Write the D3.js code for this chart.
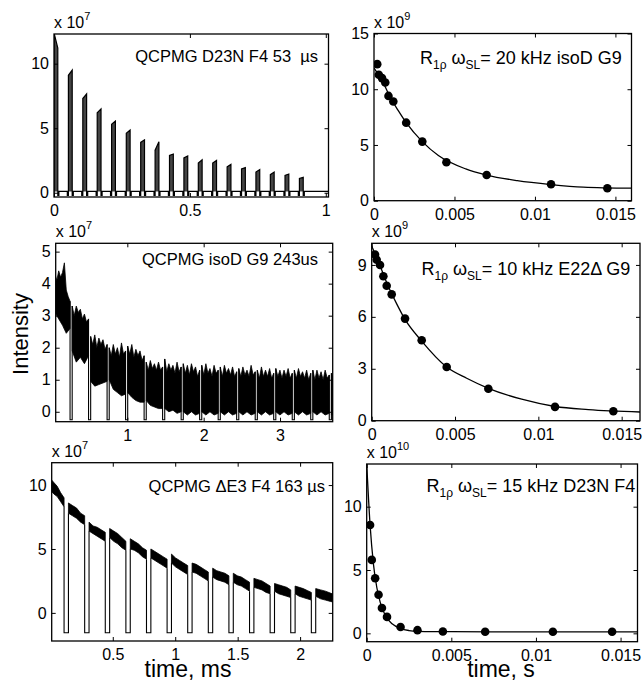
<!DOCTYPE html>
<html>
<head>
<meta charset="UTF-8">
<title>QCPMG echo trains and R1rho decays</title>
<script src="https://cdn.jsdelivr.net/npm/d3@7/dist/d3.min.js"></script>
<style>
  body { margin: 0; background: #fff; }
  svg text { font-family: "Liberation Sans", Arial, Helvetica, sans-serif; fill: #000; }
  .tick line { stroke: #000; stroke-width: 1; }
</style>
</head>
<body>
<div id="chart"></div>
<script>
// ---------- left column: QCPMG echo trains (time in ms, intensity x 1e7) ----------

// D23N F4, 53 us spacing: narrow echoes
const d23nStart = [0.0, 0.053, 0.106, 0.159, 0.212, 0.266, 0.319, 0.372, 0.425, 0.478, 0.531, 0.584, 0.637, 0.690, 0.743, 0.796, 0.850, 0.903];
const d23nTopL  = [12.4, 9.1, 7.3, 6.2, 5.3, 4.6, 3.9, 3.3, 2.9, 2.7, 2.3, 2.3, 2.0, 1.85, 1.6, 1.4, 1.35, 1.1];
const d23nTopR  = [11.2, 9.5, 7.65, 6.5, 5.55, 4.85, 4.1, 3.95, 3.0, 2.85, 2.55, 2.5, 2.2, 1.95, 1.8, 1.6, 1.45, 1.2];
const d23nBase = 0.1, d23nDip = -0.2;

// isoD G9, 243 us spacing: noisy blocks separated by short gaps
const isoGap = [0.25, 0.492, 0.735, 0.977, 1.22, 1.462, 1.705, 1.947, 2.19, 2.432, 2.675, 2.917, 3.16, 3.402, 3.645];
const isoTop = [
  [4.3, 4.1, 4.4, 4.2, 4.35, 4.65, 3.8, 3.6, 3.45],
  [3.3, 3.0, 3.3, 3.1, 3.2, 2.9, 3.05, 2.8, 2.9],
  [2.35, 2.1, 2.4, 2.0, 2.3, 2.1, 2.25, 1.95, 2.1],
  [2.0, 1.75, 2.1, 1.8, 2.0, 1.7, 2.15, 1.8, 1.9],
  [2.05, 1.8, 2.1, 1.7, 1.95, 1.75, 1.9, 1.6, 1.75],
  [1.55, 1.3, 1.6, 1.35, 1.5, 1.3, 1.55, 1.3, 1.4],
  [1.65, 1.25, 1.5, 1.3, 1.45, 1.2, 1.55, 1.25, 1.4],
  [1.5, 1.2, 1.45, 1.15, 1.5, 1.25, 1.4, 1.1, 1.3],
  [1.45, 1.15, 1.5, 1.2, 1.35, 1.1, 1.45, 1.2, 1.3],
  [1.4, 1.1, 1.45, 1.2, 1.35, 1.15, 1.4, 1.1, 1.25],
  [1.35, 1.1, 1.4, 1.15, 1.3, 1.1, 1.45, 1.15, 1.25],
  [1.3, 1.05, 1.4, 1.1, 1.3, 1.1, 1.35, 1.05, 1.2],
  [1.35, 1.1, 1.3, 1.05, 1.3, 1.1, 1.35, 1.05, 1.2],
  [1.3, 1.05, 1.35, 1.1, 1.25, 1.05, 1.3, 1.0, 1.2],
  [1.3, 1.0, 1.3, 1.05, 1.25, 1.0, 1.3, 1.05, 1.15],
  [1.2, 1.1, 1.15]
];
const isoBot = [
  [3.1, 2.9, 2.7, 2.45, 2.6],
  [1.9, 1.55, 1.7, 1.5, 1.75],
  [0.95, 0.8, 0.85, 0.9, 0.95],
  [1.0, 0.7, 0.6, 0.5, 0.55],
  [0.6, 0.45, 0.35, 0.3, 0.3],
  [0.35, 0.2, 0.15, 0.1, 0.1],
  [0.1, 0.0, 0.05, -0.05, 0.0],
  [0.0, -0.1, 0.0, -0.1, -0.05],
  [0.0, -0.1, 0.0, -0.1, -0.05],
  [0.0, -0.1, 0.0, -0.1, -0.05],
  [0.0, -0.1, 0.0, -0.1, -0.05],
  [0.0, -0.1, 0.0, -0.1, -0.05],
  [0.0, -0.1, 0.0, -0.1, -0.05],
  [0.0, -0.1, 0.0, -0.1, -0.05],
  [0.0, -0.1, 0.0, -0.1, -0.05],
  [-0.1, -0.1, -0.1]
];
const isoGapWidth = 0.028, isoGapLevel = -0.25;

// dE3 F4, 163 us spacing: cleaner blocks dropping well below zero between echoes
const de3Gap = [0.11, 0.275, 0.44, 0.605, 0.77, 0.935, 1.1, 1.265, 1.43, 1.595, 1.76, 1.925, 2.09];
const de3Top = [
  [10.5, 10.2, 9.9, 9.4, 9.0], [8.6, 8.4, 8.2, 7.8, 7.6], [7.1, 6.8, 6.7, 6.5, 6.3],
  [6.6, 6.4, 6.2, 5.9, 5.6], [5.8, 5.6, 5.4, 5.1, 4.9], [5.0, 4.8, 4.6, 4.4, 4.2],
  [4.6, 4.3, 4.1, 3.9, 3.7], [3.9, 3.8, 3.6, 3.4, 3.2], [3.5, 3.3, 3.2, 3.1, 2.9],
  [3.1, 2.9, 2.8, 2.6, 2.4], [2.7, 2.6, 2.5, 2.3, 2.1], [2.3, 2.2, 2.1, 2.0, 1.8],
  [2.1, 2.0, 1.9, 1.75, 1.6], [1.9, 1.8, 1.7, 1.55, 1.4]
];
const de3Bot = [
  [9.6, 9.3, 9.1, 8.7, 8.3], [7.8, 7.6, 7.4, 7.1, 6.9], [6.4, 6.2, 6.0, 5.8, 5.6],
  [5.9, 5.6, 5.4, 5.1, 4.9], [5.0, 4.9, 4.7, 4.4, 4.2], [4.3, 4.1, 3.9, 3.7, 3.5],
  [3.9, 3.6, 3.4, 3.2, 3.0], [3.2, 3.1, 2.9, 2.7, 2.5], [2.8, 2.6, 2.5, 2.4, 2.2],
  [2.4, 2.2, 2.1, 1.9, 1.7], [2.0, 1.9, 1.8, 1.6, 1.5], [1.7, 1.5, 1.4, 1.3, 1.2],
  [1.5, 1.3, 1.2, 1.1, 1.0], [1.3, 1.1, 1.0, 0.9, 0.8]
];
const de3GapWidth = 0.035, de3GapLevel = -1.55;

// ---------- right column: R1rho decays (time in s) ----------
const slTime = [0.0002, 0.0003, 0.0005, 0.0007, 0.0009, 0.0012, 0.002, 0.003, 0.0045, 0.007, 0.011, 0.0145];
const r20Int = [12.25, 11.3, 11.0, 10.6, 9.4, 8.9, 7.0, 5.3, 3.45, 2.3, 1.47, 1.12];   // x 1e9
const r10Int = [9.6, 9.3, 9.0, 8.35, 7.8, 7.3, 5.9, 4.65, 3.1, 1.85, 0.8, 0.55];       // x 1e9
const r15Int = [8.55, 5.8, 4.35, 3.05, 2.0, 1.3, 0.5, 0.25, 0.15, 0.12, 0.12, 0.12];  // x 1e10

const r20FitT = [0, 0.0005, 0.001, 0.0015, 0.002, 0.003, 0.004, 0.0057, 0.007, 0.0089, 0.011, 0.013, 0.016];
const r20FitV = [11.9, 10.8, 9.3, 8.1, 7.0, 5.3, 4.05, 2.85, 2.3, 1.8, 1.45, 1.22, 1.12];
const r10FitT = [0, 0.0005, 0.001, 0.0015, 0.002, 0.003, 0.0045, 0.0057, 0.007, 0.009, 0.011, 0.013, 0.0162];
const r10FitV = [10.1, 8.95, 7.75, 6.75, 5.85, 4.6, 3.1, 2.45, 1.87, 1.24, 0.82, 0.64, 0.5];
const r15FitT = [0, 0.0002, 0.0004, 0.0006, 0.0008, 0.001, 0.0012, 0.0015, 0.002, 0.0025, 0.003, 0.005, 0.01, 0.016];
const r15FitV = [13.4, 8.55, 5.45, 3.6, 2.45, 1.7, 1.2, 0.75, 0.38, 0.22, 0.16, 0.13, 0.12, 0.12];

// ---------- layout ----------
const width = 643, height = 684;
const svg = d3.select("#chart").append("svg")
    .attr("width", width)
    .attr("height", height);

const panels = [
  {id: "a", l: 54, r: 328.5, t: 34, b: 197, xd: [0, 1.01], yd: [-0.33, 12.3], xt: [0, 0.5, 1], yt: [0, 5, 10], exp: "7"},
  {id: "b", l: 374, r: 631.5, t: 33.5, b: 200.7, xd: [0, 0.016], yd: [0, 15], xt: [0, 0.005, 0.01, 0.015], yt: [0, 5, 10, 15], exp: "9"},
  {id: "c", l: 55.7, r: 332.7, t: 243.3, b: 421.7, xd: [0.062, 3.69], yd: [-0.31, 5.26], xt: [1, 2, 3], yt: [0, 1, 2, 3, 4, 5], exp: "7"},
  {id: "d", l: 371.7, r: 640, t: 243.3, b: 420.7, xd: [0, 0.0161], yd: [0, 10.25], xt: [0, 0.005, 0.01, 0.015], yt: [0, 3, 6, 9], exp: "9"},
  {id: "e", l: 51.7, r: 332.7, t: 462.7, b: 641, xd: [0.011, 2.261], yd: [-2.2, 11.75], xt: [0.5, 1, 1.5, 2], yt: [0, 5, 10], exp: "7"},
  {id: "f", l: 366.7, r: 637.5, t: 464, b: 641.7, xd: [0, 0.016], yd: [-0.66, 13.37], xt: [0, 0.005, 0.01, 0.015], yt: [0, 5, 10], exp: "10"}
];

function setup(p) {
  const x = d3.scaleLinear().domain(p.xd).range([p.l, p.r]);
  const y = d3.scaleLinear().domain(p.yd).range([p.b, p.t]);
  svg.append("clipPath").attr("id", "clip-" + p.id)
    .append("rect")
    .attr("x", p.l).attr("y", p.t)
    .attr("width", p.r - p.l).attr("height", p.b - p.t);
  const plot = svg.append("g").attr("clip-path", "url(#clip-" + p.id + ")");
  return {x, y, plot};
}

function axes(p, x, y) {
  const tk = 4;
  const fmt = d => String(d);
  const bottom = svg.append("g").attr("transform", "translate(0," + p.b + ")")
    .call(d3.axisBottom(x).tickValues(p.xt).tickSizeInner(-tk).tickSizeOuter(0).tickPadding(8).tickFormat(fmt));
  const top = svg.append("g").attr("transform", "translate(0," + p.t + ")")
    .call(d3.axisTop(x).tickValues(p.xt).tickSizeInner(-tk).tickSizeOuter(0).tickFormat(""));
  const left = svg.append("g").attr("transform", "translate(" + p.l + ",0)")
    .call(d3.axisLeft(y).tickValues(p.yt).tickSizeInner(-tk).tickSizeOuter(0).tickPadding(5).tickFormat(fmt));
  const right = svg.append("g").attr("transform", "translate(" + p.r + ",0)")
    .call(d3.axisRight(y).tickValues(p.yt).tickSizeInner(-tk).tickSizeOuter(0).tickFormat(""));
  [bottom, top, left, right].forEach(g => {
    g.select(".domain").remove();
    g.attr("font-family", null).attr("font-size", 16);
  });

  svg.append("rect")
    .attr("x", p.l).attr("y", p.t)
    .attr("width", p.r - p.l).attr("height", p.b - p.t)
    .attr("fill", "none").attr("stroke", "#000").attr("stroke-width", 1.3);

  const ex = svg.append("text")
    .attr("x", p.l).attr("y", p.t - 6)
    .attr("font-size", 16);
  ex.append("tspan").text("x 10");
  ex.append("tspan").attr("dy", -8).attr("font-size", 11).text(p.exp);
}

const line = (x, y) => d3.line().x(d => x(d[0])).y(d => y(d[1]));

// spread n envelope values evenly across [t0, t1]
function spread(vals, t0, t1) {
  const n = vals.length;
  return vals.map((v, i) => [t0 + (t1 - t0) * i / (n - 1), v]);
}

// ---- panel a: D23N F4 ----
{
  const p = panels[0];
  const {x, y, plot} = setup(p);
  const w = 0.014, dw = 0.004;
  const pts = [[p.xd[0] - 0.01, d23nBase]];
  d23nStart.forEach((s, i) => {
    const pre = i === 0 ? s : s - dw;
    pts.push([pre, d23nBase], [pre, d23nDip], [s, d23nDip], [s, d23nTopL[i]],
             [s + w, d23nTopR[i]], [s + w, d23nDip], [s + w + dw, d23nDip], [s + w + dw, d23nBase]);
    plot.append("path")
      .attr("d", line(x, y)([[s, d23nBase], [s, d23nTopL[i]], [s + w, d23nTopR[i]], [s + w, d23nBase]]))
      .attr("fill", "#444").attr("stroke", "none");
  });
  pts.push([p.xd[1] + 0.01, d23nBase]);
  plot.append("path").attr("d", line(x, y)(pts))
    .attr("fill", "none").attr("stroke", "#000").attr("stroke-width", 1.2);
  axes(p, x, y);
  svg.append("text").attr("x", 318).attr("y", 62).attr("text-anchor", "end").attr("font-size", 16.5)
    .text("QCPMG D23N F4 53 \u00a0\u00b5s");
}

// ---- panel c: isoD G9 ----
{
  const p = panels[2];
  const {x, y, plot} = setup(p);
  const blocks = isoTop.map((top, i) => {
    const t0 = i === 0 ? p.xd[0] - 0.01 : isoGap[i - 1] + isoGapWidth;
    const t1 = i < isoGap.length ? isoGap[i] : p.xd[1] + 0.02;
    return {t0, t1, top: spread(top, t0, t1), bot: spread(isoBot[i], t0, t1)};
  });
  blocks.forEach(b => {
    plot.append("path")
      .attr("d", line(x, y)(b.top.concat(b.bot.slice().reverse())) + "Z")
      .attr("fill", "#000").attr("stroke", "#000").attr("stroke-width", 0.8);
  });
  isoGap.forEach((g, i) => {
    const a = blocks[i], b = blocks[i + 1];
    const pts = [[g, a.top[a.top.length - 1][1]], [g, isoGapLevel], [g + isoGapWidth, isoGapLevel]];
    if (b) pts.push([g + isoGapWidth, b.top[0][1]]);
    plot.append("path").attr("d", line(x, y)(pts))
      .attr("fill", "none").attr("stroke", "#000").attr("stroke-width", 1.1);
  });
  axes(p, x, y);
  svg.append("text").attr("x", 318).attr("y", 265).attr("text-anchor", "end").attr("font-size", 16.5)
    .text("QCPMG isoD G9 243us");
}

// ---- panel e: dE3 F4 ----
{
  const p = panels[4];
  const {x, y, plot} = setup(p);
  const blocks = de3Top.map((top, i) => {
    const t0 = i === 0 ? p.xd[0] - 0.01 : de3Gap[i - 1] + de3GapWidth;
    const t1 = i < de3Gap.length ? de3Gap[i] : p.xd[1] + 0.02;
    return {t0, t1, top: spread(top, t0, t1), bot: spread(de3Bot[i], t0, t1)};
  });
  blocks.forEach(b => {
    plot.append("path")
      .attr("d", line(x, y)(b.top.concat(b.bot.slice().reverse())) + "Z")
      .attr("fill", "#000").attr("stroke", "#000").attr("stroke-width", 0.8);
  });
  de3Gap.forEach((g, i) => {
    const a = blocks[i], b = blocks[i + 1];
    const pts = [[g, a.bot[a.bot.length - 1][1]], [g, de3GapLevel], [g + de3GapWidth, de3GapLevel]];
    if (b) pts.push([g + de3GapWidth, b.bot[0][1]]);
    plot.append("path").attr("d", line(x, y)(pts))
      .attr("fill", "none").attr("stroke", "#000").attr("stroke-width", 1.1);
  });
  axes(p, x, y);
  svg.append("text").attr("x", 325).attr("y", 492).attr("text-anchor", "end").attr("font-size", 16.5)
    .text("QCPMG \u0394E3 F4 163 \u00b5s");
}

// ---- right column ----
function decayPanel(p, vals, fitT, fitV, titleX, titleY, rest) {
  const {x, y, plot} = setup(p);
  const fit = fitT.map((t, i) => [t, fitV[i]]);
  plot.append("path")
    .attr("d", d3.line().x(d => x(d[0])).y(d => y(d[1])).curve(d3.curveMonotoneX)(fit))
    .attr("fill", "none").attr("stroke", "#000").attr("stroke-width", 1.3);
  plot.selectAll("circle.pt").data(slTime.map((t, i) => [t, vals[i]]))
    .join("circle").attr("class", "pt")
    .attr("cx", d => x(d[0])).attr("cy", d => y(d[1])).attr("r", 4.3)
    .attr("fill", "#000");
  axes(p, x, y);
  const t = svg.append("text").attr("x", titleX).attr("y", titleY).attr("font-size", 18);
  t.append("tspan").text("R");
  t.append("tspan").attr("dy", 5).attr("font-size", 12).text("1\u03c1");
  t.append("tspan").attr("dy", -5).text(" \u03c9");
  t.append("tspan").attr("dy", 5).attr("font-size", 12).text("SL");
  t.append("tspan").attr("dy", -5).text(rest);
}

decayPanel(panels[1], r20Int, r20FitT, r20FitV, 420, 64, "= 20 kHz isoD G9");
decayPanel(panels[3], r10Int, r10FitT, r10FitV, 421.5, 275, "= 10 kHz E22\u0394 G9");
decayPanel(panels[5], r15Int, r15FitT, r15FitV, 426.5, 492, "= 15 kHz D23N F4");

// ---- shared axis labels ----
svg.append("text")
  .attr("transform", "translate(28,334) rotate(-90)")
  .attr("text-anchor", "middle").attr("font-size", 22)
  .text("Intensity");
svg.append("text").attr("x", 188).attr("y", 677).attr("text-anchor", "middle").attr("font-size", 23)
  .text("time, ms");
svg.append("text").attr("x", 501).attr("y", 677).attr("text-anchor", "middle").attr("font-size", 23)
  .text("time, s");
</script>
</body>
</html>
